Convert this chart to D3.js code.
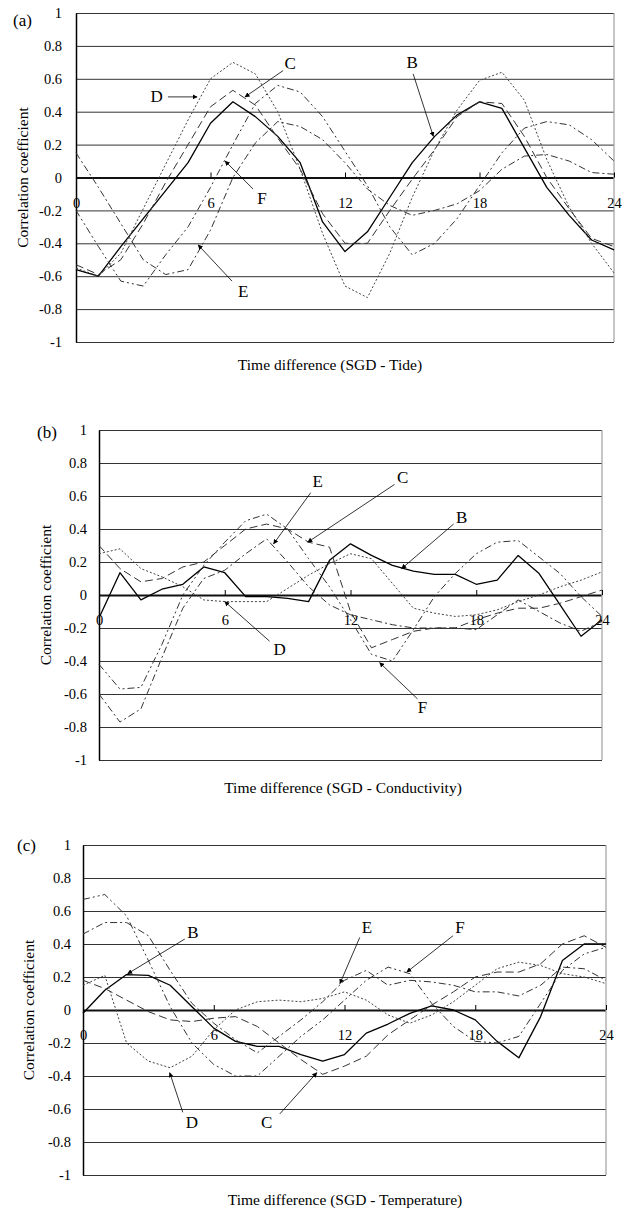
<!DOCTYPE html>
<html>
<head>
<meta charset="utf-8">
<script src="https://cdn.jsdelivr.net/npm/d3@7"></script>
<style>
  body { margin: 0; background: #fff; }
  svg, svg text { font-family: "Liberation Serif", serif; }
  svg { display: block; }
</style>
</head>
<body>
<svg width="635" height="1213"></svg>
<script>
// ---- data ----
const hours = [0, 1, 2, 3, 4, 5, 6, 7, 8, 9, 10, 11, 12, 13, 14, 15, 16, 17, 18, 19, 20, 21, 22, 23, 24];
const xTickValues = [0, 6, 12, 18, 24];
const yTickValues = [-1, -0.8, -0.6, -0.4, -0.2, 0, 0.2, 0.4, 0.6, 0.8, 1];
const yTickLabels = ["-1", "-0.8", "-0.6", "-0.4", "-0.2", "0", "0.2", "0.4", "0.6", "0.8", "1"];
const seriesNames = ["B", "C", "D", "E", "F"];

// (a) SGD - Tide
const tideB = [-0.56, -0.60, -0.42, -0.25, -0.08, 0.09, 0.33, 0.46, 0.37, 0.25, 0.09, -0.27, -0.45, -0.33, -0.12, 0.09, 0.25, 0.38, 0.46, 0.42, 0.18, -0.06, -0.23, -0.38, -0.44];
const tideC = [-0.53, -0.59, -0.50, -0.28, -0.03, 0.20, 0.43, 0.53, 0.44, 0.24, 0.05, -0.22, -0.40, -0.40, -0.20, -0.01, 0.17, 0.37, 0.46, 0.45, 0.25, 0.00, -0.19, -0.37, -0.42];
const tideD = [-0.55, -0.60, -0.46, -0.19, 0.08, 0.35, 0.60, 0.70, 0.63, 0.40, 0.05, -0.34, -0.66, -0.73, -0.46, -0.12, 0.17, 0.41, 0.59, 0.64, 0.47, 0.11, -0.18, -0.40, -0.58];
const tideE = [0.15, -0.06, -0.28, -0.50, -0.59, -0.56, -0.32, 0.00, 0.21, 0.34, 0.31, 0.23, 0.09, -0.07, -0.17, -0.23, -0.20, -0.16, -0.08, 0.05, 0.13, 0.14, 0.10, 0.03, 0.02];
const tideF = [-0.20, -0.42, -0.63, -0.66, -0.47, -0.30, -0.06, 0.20, 0.45, 0.56, 0.52, 0.37, 0.16, -0.05, -0.30, -0.47, -0.40, -0.25, -0.05, 0.15, 0.30, 0.34, 0.32, 0.23, 0.10];

// (b) SGD - Conductivity
const condB = [-0.14, 0.135, -0.03, 0.035, 0.065, 0.17, 0.135, -0.01, -0.01, -0.02, -0.04, 0.21, 0.31, 0.24, 0.18, 0.145, 0.125, 0.125, 0.065, 0.09, 0.24, 0.13, -0.06, -0.25, -0.15];
const condC = [0.30, 0.16, 0.08, 0.10, 0.17, 0.20, 0.30, 0.40, 0.43, 0.40, 0.32, 0.29, -0.10, -0.32, -0.27, -0.22, -0.20, -0.20, -0.15, -0.11, -0.08, -0.08, -0.05, -0.01, 0.03];
const condD = [0.25, 0.28, 0.16, 0.11, 0.05, -0.03, -0.04, -0.04, -0.04, 0.04, 0.12, 0.19, 0.25, 0.22, 0.07, -0.08, -0.11, -0.13, -0.12, -0.09, -0.04, 0.00, 0.05, 0.09, 0.14];
const condE = [-0.60, -0.77, -0.69, -0.38, -0.08, 0.10, 0.15, 0.25, 0.34, 0.20, 0.05, -0.06, -0.12, -0.15, -0.18, -0.20, -0.20, -0.20, -0.21, -0.12, -0.03, -0.10, -0.17, -0.22, -0.16];
const condF = [-0.42, -0.57, -0.56, -0.30, 0.00, 0.18, 0.32, 0.45, 0.49, 0.40, 0.22, 0.05, -0.15, -0.36, -0.40, -0.21, -0.01, 0.13, 0.25, 0.32, 0.33, 0.23, 0.13, -0.01, -0.13];

// (c) SGD - Temperature
const tempB = [-0.02, 0.12, 0.215, 0.21, 0.15, 0.02, -0.11, -0.19, -0.22, -0.22, -0.27, -0.31, -0.27, -0.14, -0.085, -0.02, 0.025, 0.00, -0.06, -0.19, -0.29, -0.04, 0.30, 0.40, 0.40];
const tempC = [0.18, 0.13, 0.06, -0.01, -0.06, -0.07, -0.05, -0.04, -0.10, -0.20, -0.30, -0.39, -0.34, -0.28, -0.15, -0.06, 0.03, 0.11, 0.20, 0.23, 0.23, 0.28, 0.40, 0.45, 0.38];
const tempD = [0.15, 0.21, -0.20, -0.31, -0.35, -0.28, -0.12, 0.00, 0.05, 0.06, 0.05, 0.07, 0.11, 0.06, -0.03, -0.08, -0.03, 0.05, 0.15, 0.25, 0.29, 0.27, 0.22, 0.20, 0.16];
const tempE = [0.46, 0.53, 0.53, 0.45, 0.24, 0.04, -0.08, -0.18, -0.26, -0.16, -0.06, 0.05, 0.18, 0.24, 0.15, 0.18, 0.17, 0.15, 0.11, 0.11, 0.085, 0.15, 0.26, 0.25, 0.18];
const tempF = [0.67, 0.70, 0.57, 0.30, 0.02, -0.20, -0.33, -0.40, -0.40, -0.28, -0.16, -0.06, 0.06, 0.18, 0.26, 0.22, 0.04, -0.10, -0.19, -0.20, -0.16, 0.04, 0.24, 0.34, 0.38];

// label call-outs, in (hour, value) units: text spot, arrow start, arrow tip
const tideNotes = [
  { name: "C", text: [9.55, 0.69], from: [9.24, 0.65], to: [7.54, 0.49] },
  { name: "D", text: [3.6, 0.49], from: [4.1, 0.49], to: [5.4, 0.49] },
  { name: "B", text: [15.0, 0.70], from: [15.04, 0.63], to: [15.94, 0.25] },
  { name: "F", text: [8.3, -0.13], from: [7.9, -0.07], to: [6.65, 0.10] },
  { name: "E", text: [7.46, -0.69], from: [6.96, -0.63], to: [5.45, -0.41] }
];
const condNotes = [
  { name: "E", text: [10.43, 0.685], from: [10.1, 0.62], to: [8.33, 0.31] },
  { name: "C", text: [14.49, 0.71], from: [14.1, 0.67], to: [9.96, 0.32] },
  { name: "B", text: [17.3, 0.47], from: [16.92, 0.43], to: [14.44, 0.16] },
  { name: "D", text: [8.62, -0.33], from: [8.14, -0.28], to: [6.0, -0.04] },
  { name: "F", text: [15.44, -0.68], from: [15.2, -0.63], to: [13.39, -0.41] }
];
const tempNotes = [
  { name: "B", text: [5.04, 0.47], from: [4.67, 0.43], to: [2.05, 0.22] },
  { name: "D", text: [5.0, -0.68], from: [4.58, -0.62], to: [3.98, -0.38] },
  { name: "C", text: [8.43, -0.68], from: [9.03, -0.63], to: [10.73, -0.38] },
  { name: "E", text: [13.03, 0.50], from: [12.7, 0.44], to: [11.79, 0.16] },
  { name: "F", text: [17.3, 0.50], from: [16.98, 0.45], to: [14.86, 0.23] }
];

// ---- styles ----
const serif = "'Liberation Serif', serif";
const lineStyle = {
  B: { dash: null, width: 1.3, color: "#000" },
  C: { dash: "8,4", width: 1, color: "#333" },
  D: { dash: "2,2", width: 1, color: "#444" },
  E: { dash: "7,3,2,3", width: 1, color: "#333" },
  F: { dash: "7,3,2,3,2,3", width: 1, color: "#333" }
};

const panels = [
  { tag: "(a)", tagX: 13, tagY: 26, xTitle: "Time difference (SGD - Tide)", xTitleX: 330, xTitleY: 370,
    yTitleX: 22, yPad: 14, left: 76, right: 614, top: 13, bottom: 342,
    series: [tideB, tideC, tideD, tideE, tideF], notes: tideNotes },
  { tag: "(b)", tagX: 37, tagY: 438, xTitle: "Time difference (SGD - Conductivity)", xTitleX: 343, xTitleY: 793,
    yTitleX: 45, yPad: 12, left: 99, right: 602, top: 430, bottom: 760,
    series: [condB, condC, condD, condE, condF], notes: condNotes },
  { tag: "(c)", tagX: 17, tagY: 851, xTitle: "Time difference (SGD - Temperature)", xTitleX: 345, xTitleY: 1205,
    yTitleX: 28, yPad: 12, left: 83, right: 606, top: 845, bottom: 1175,
    series: [tempB, tempC, tempD, tempE, tempF], notes: tempNotes }
];

const svg = d3.select("svg");
svg.append("rect").attr("width", 635).attr("height", 1213).attr("fill", "#fff");

svg.append("defs")
  .append("marker")
  .attr("id", "tip")
  .attr("viewBox", "0 0 10 10")
  .attr("refX", 9)
  .attr("refY", 5)
  .attr("markerWidth", 5)
  .attr("markerHeight", 5)
  .attr("markerUnits", "userSpaceOnUse")
  .attr("orient", "auto")
  .append("path")
  .attr("d", "M0,0L10,5L0,10Z")
  .attr("fill", "#000");

panels.forEach((p) => {
  const x = d3.scaleLinear().domain([0, 24]).range([p.left, p.right]);
  const y = d3.scaleLinear().domain([-1, 1]).range([p.bottom, p.top]);
  const g = svg.append("g");

  // horizontal grid
  g.append("g")
    .attr("transform", `translate(${p.left},0)`)
    .call(d3.axisLeft(y).tickValues(yTickValues).tickSize(-(p.right - p.left)).tickFormat(""))
    .call((s) => s.select(".domain").remove())
    .call((s) => s.selectAll("line")
      .attr("stroke", (d) => (d === 0 ? "#111" : "#333"))
      .attr("stroke-width", (d) => (d === 0 ? 1.8 : 1)));

  // right border
  g.append("line")
    .attr("x1", p.right).attr("x2", p.right)
    .attr("y1", p.top).attr("y2", p.bottom)
    .attr("stroke", "#a0a0a0").attr("stroke-width", 1.2);

  // y axis
  g.append("g")
    .attr("transform", `translate(${p.left},0)`)
    .call(d3.axisLeft(y).tickValues(yTickValues).tickSize(0).tickPadding(p.yPad)
      .tickFormat((d, i) => yTickLabels[i]))
    .attr("font-family", null)
    .call((s) => s.select(".domain").attr("stroke", "#000").attr("stroke-width", 1.5))
    .call((s) => s.selectAll("text")
      .style("font-family", serif).attr("font-size", 14.5).attr("fill", "#000"));

  // x axis on the zero line
  g.append("g")
    .attr("transform", `translate(0,${y(0)})`)
    .call(d3.axisBottom(x).tickValues(xTickValues).tickSizeInner(-5).tickSizeOuter(0).tickPadding(20))
    .attr("font-family", null)
    .call((s) => s.select(".domain").remove())
    .call((s) => s.selectAll("line").attr("stroke", "#000").attr("stroke-width", 1))
    .call((s) => s.selectAll("text")
      .style("font-family", serif).attr("font-size", 14.5).attr("fill", "#000"));

  // series
  const line = d3.line().x((d, i) => x(hours[i])).y((d) => y(d));
  p.series.forEach((values, k) => {
    const st = lineStyle[seriesNames[k]];
    g.append("path")
      .datum(values)
      .attr("d", line)
      .attr("fill", "none")
      .attr("stroke", st.color)
      .attr("stroke-width", st.width)
      .attr("stroke-dasharray", st.dash)
      .attr("stroke-linejoin", "round");
  });

  // call-outs
  p.notes.forEach((n) => {
    g.append("line")
      .attr("x1", x(n.from[0])).attr("y1", y(n.from[1]))
      .attr("x2", x(n.to[0])).attr("y2", y(n.to[1]))
      .attr("stroke", "#000").attr("stroke-width", 0.8)
      .attr("marker-end", "url(#tip)");
    g.append("text")
      .attr("x", x(n.text[0])).attr("y", y(n.text[1]))
      .attr("text-anchor", "middle")
      .attr("dominant-baseline", "central")
      .style("font-family", serif)
      .attr("font-size", 17)
      .text(n.name);
  });

  // titles
  g.append("text")
    .attr("x", p.tagX).attr("y", p.tagY)
    .style("font-family", serif)
    .attr("font-size", 17)
    .text(p.tag);

  g.append("text")
    .attr("transform", `translate(${p.yTitleX},${y(0)}) rotate(-90)`)
    .attr("text-anchor", "middle")
    .attr("dominant-baseline", "central")
    .style("font-family", serif)
    .attr("font-size", 15.5)
    .text("Correlation coefficient");

  g.append("text")
    .attr("x", p.xTitleX).attr("y", p.xTitleY)
    .attr("text-anchor", "middle")
    .style("font-family", serif)
    .attr("font-size", 15.5)
    .text(p.xTitle);
});
</script>
</body>
</html>
